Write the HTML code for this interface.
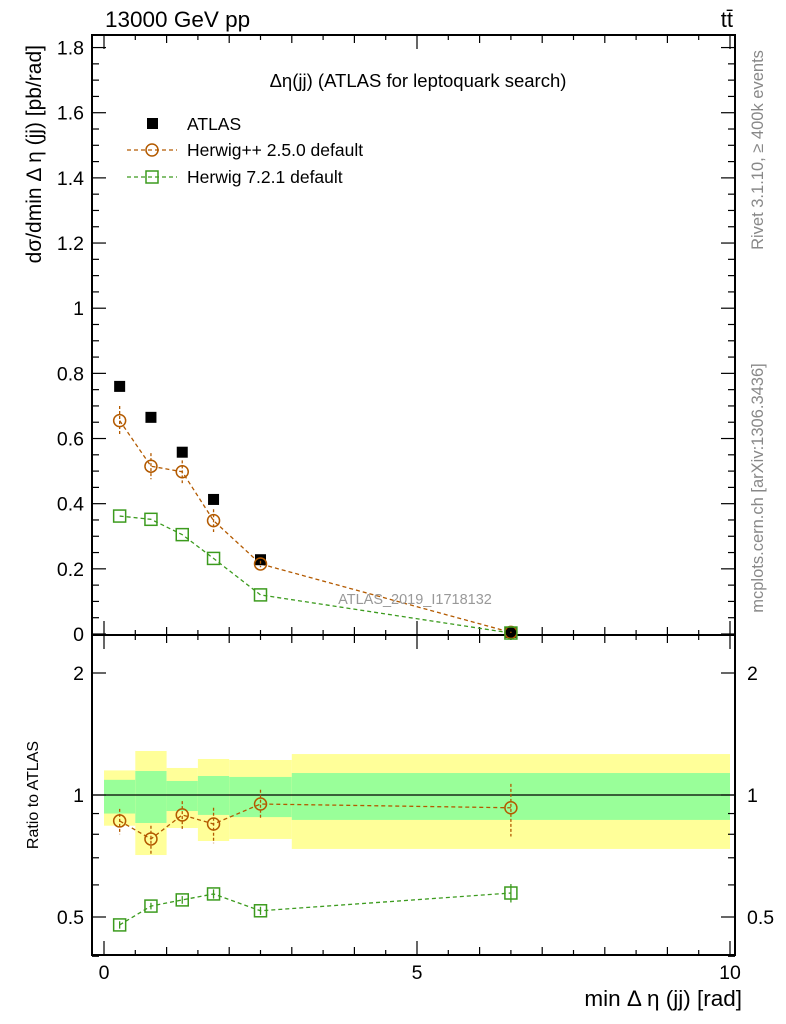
<!DOCTYPE html>
<html><head><meta charset="utf-8">
<style>
body{margin:0;background:#fff;}
svg{display:block;font-family:"Liberation Sans",sans-serif;}
</style></head>
<body>
<svg id="c" width="786" height="1024" viewBox="0 0 786 1024" xmlns="http://www.w3.org/2000/svg">
<g id="ratioBands"></g>
<g id="axes"></g>
<g id="series"></g>
<text x="105" y="27" font-size="22.5">13000 GeV pp</text>
<text x="733" y="27" font-size="22" text-anchor="end">tt̄</text>
<text x="418" y="87" font-size="18.5" text-anchor="middle">Δη(jj) (ATLAS for leptoquark search)</text>
<text x="415" y="604" font-size="14.5" fill="#999" text-anchor="middle">ATLAS_2019_I1718132</text>
<text transform="translate(41,45) rotate(-90)" font-size="21" text-anchor="end">dσ/dmin Δ η (jj) [pb/rad]</text>
<text transform="translate(38,795) rotate(-90)" font-size="16" text-anchor="middle">Ratio to ATLAS</text>
<text x="742" y="1006" font-size="22.5" text-anchor="end">min Δ η (jj) [rad]</text>
<text transform="translate(763,150) rotate(-90)" font-size="16.5" fill="#888" text-anchor="middle">Rivet 3.1.10, ≥ 400k events</text>
<text transform="translate(763,488) rotate(-90)" font-size="16.5" fill="#888" text-anchor="middle">mcplots.cern.ch [arXiv:1306.3436]</text>
<g>
<rect x="147" y="118" width="11" height="11" fill="#000"/>
<text x="187" y="130" font-size="17.5">ATLAS</text>
<line x1="127" y1="150" x2="177" y2="150" stroke="#b35a00" stroke-width="1.3" stroke-dasharray="4,3"/>
<circle cx="152" cy="150" r="6" fill="none" stroke="#b35a00" stroke-width="1.5"/>
<text x="187" y="156" font-size="17.5">Herwig++ 2.5.0 default</text>
<line x1="127" y1="177" x2="177" y2="177" stroke="#3c9b1e" stroke-width="1.3" stroke-dasharray="4,3"/>
<rect x="146" y="171" width="12" height="12" fill="none" stroke="#3c9b1e" stroke-width="1.5"/>
<text x="187" y="183" font-size="17.5">Herwig 7.2.1 default</text>
</g>
</svg>
<script>
const binEdges=[0,0.5,1.0,1.5,2.0,3.0,10];
const xCenters=[0.25,0.75,1.25,1.75,2.5,6.5];
const atlas=[0.76,0.665,0.558,0.413,0.228,0.005];
const hpp=[0.655,0.515,0.498,0.348,0.215,0.005];
const hppErr=[0.045,0.04,0.035,0.035,0.01,0.002];
const h7=[0.362,0.352,0.305,0.232,0.12,0.003];
const yellowHi=[1.15,1.284,1.166,1.227,1.22,1.262];
const yellowLo=[0.84,0.711,0.829,0.77,0.779,0.736];
const greenHi=[1.09,1.146,1.083,1.114,1.108,1.133];
const greenLo=[0.9,0.853,0.913,0.893,0.882,0.868];
const hppRatio=[0.863,0.779,0.893,0.848,0.95,0.93];
const hppRatioHi=[0.924,0.84,0.966,0.93,1.03,1.065];
const hppRatioLo=[0.8,0.71,0.825,0.76,0.87,0.79];
const h7Ratio=[0.478,0.532,0.551,0.57,0.518,0.573];
const h7RatioErr=[0.01,0.01,0.012,0.015,0.012,0.03];
const mainTicks=[0,0.2,0.4,0.6,0.8,1,1.2,1.4,1.6,1.8];
const mainTickLabels=["0","0.2","0.4","0.6","0.8","1","1.2","1.4","1.6","1.8"];
const ratioTicks=[0.5,1,2];
const ratioTickLabels=["0.5","1","2"];
const xTicks=[0,5,10];
const xTickLabels=["0","5","10"];

const NS="http://www.w3.org/2000/svg";
const L=92,R=735,T=35,MB=635,RB=955;
const X=v=>104+v*62.6;
const Y=v=>634-v*325.8;
const YR=v=>795-Math.log2(v)*122;
function mk(tag,at,parent){const e=document.createElementNS(NS,tag);for(const k in at)e.setAttribute(k,at[k]);parent.appendChild(e);return e;}
const bands=document.getElementById('ratioBands'),axes=document.getElementById('axes'),ser=document.getElementById('series');
for(let i=0;i<6;i++){
 const x0=X(binEdges[i]),x1=X(binEdges[i+1]);
 let y=mk('rect',{x:x0,y:YR(yellowHi[i]),width:x1-x0,height:YR(yellowLo[i])-YR(yellowHi[i]),fill:'#ffff99'},bands);
 
 
 let g=mk('rect',{x:x0,y:YR(greenHi[i]),width:x1-x0,height:YR(greenLo[i])-YR(greenHi[i]),fill:'#99ff99'},bands);
 
 
}
mk('line',{x1:L,y1:YR(1),x2:R,y2:YR(1),stroke:'#000','stroke-width':1.2},axes);
for(const [t,b] of [[T,MB],[MB,RB]]){
 const f=mk('rect',{x:L,y:t,width:R-L,height:b-t,fill:'none',stroke:'#000','stroke-width':2},axes);
 
 
}
for(let v=0;v<=1.85;v+=0.05){const major=Math.abs(v/0.2-Math.round(v/0.2))<1e-6;const l=major?14:7;
 mk('line',{x1:L,y1:Y(v),x2:L+l,y2:Y(v),stroke:'#000','stroke-width':1.2},axes);
 mk('line',{x1:R,y1:Y(v),x2:R-l,y2:Y(v),stroke:'#000','stroke-width':1.2},axes);}
mainTicks.forEach((v,i)=>{const t=mk('text',{x:L-8,y:Y(v)+7,'font-size':19.5,'text-anchor':'end'},axes);t.textContent=mainTickLabels[i];
 
 });
[0.4,0.5,0.6,0.7,0.8,0.9,1,2].forEach(v=>{const major=ratioTicks.includes(v);const l=major?14:7;
 mk('line',{x1:L,y1:YR(v),x2:L+l,y2:YR(v),stroke:'#000','stroke-width':1.2},axes);
 mk('line',{x1:R,y1:YR(v),x2:R-l,y2:YR(v),stroke:'#000','stroke-width':1.2},axes);});
ratioTicks.forEach((v,i)=>{for(const [x,a] of [[L-8,'end'],[R+12,'start']]){const t=mk('text',{x:x,y:YR(v)+7,'font-size':19.5,'text-anchor':a},axes);t.textContent=ratioTickLabels[i];
 
 }});
for(let v=0;v<=10;v+=0.5){const major=Math.abs(v-Math.round(v))<1e-6?(v%5==0?14:8):5;
 for(const [b,t] of [[MB,T],[RB,MB]]){mk('line',{x1:X(v),y1:b,x2:X(v),y2:b-major,stroke:'#000','stroke-width':1.2},axes);mk('line',{x1:X(v),y1:t,x2:X(v),y2:t+major,stroke:'#000','stroke-width':1.2},axes);}}
xTicks.forEach((v,i)=>{const t=mk('text',{x:X(v),y:979,'font-size':19.5,'text-anchor':'middle'},axes);t.textContent=xTickLabels[i];
 
 });
const OR='#b35a00',GR='#3c9b1e';
function line(pts,col,name){const p=mk('polyline',{points:pts.map(q=>q.join(',')).join(' '),fill:'none',stroke:col,'stroke-width':1.3,'stroke-dasharray':'4,3'},ser);
 
 }
line(xCenters.map((x,i)=>[X(x),Y(hpp[i])]),OR,'herwigpp-line');
line(xCenters.map((x,i)=>[X(x),Y(h7[i])]),GR,'herwig7-line');
line(xCenters.map((x,i)=>[X(x),YR(hppRatio[i])]),OR,'herwigpp-ratio-line');
line(xCenters.map((x,i)=>[X(x),YR(h7Ratio[i])]),GR,'herwig7-ratio-line');
xCenters.forEach((x,i)=>{
 const a=mk('rect',{x:X(x)-5.5,y:Y(atlas[i])-5.5,width:11,height:11,fill:'#000'},ser);
 
 
 mk('line',{x1:X(x),y1:Y(hpp[i]+hppErr[i]),x2:X(x),y2:Y(hpp[i]-hppErr[i]),stroke:OR,'stroke-width':1.3,'stroke-dasharray':'3,2'},ser);
 const c=mk('circle',{cx:X(x),cy:Y(hpp[i]),r:6,fill:'none',stroke:OR,'stroke-width':1.5},ser);
 
 
 const s=mk('rect',{x:X(x)-6,y:Y(h7[i])-6,width:12,height:12,fill:'none',stroke:GR,'stroke-width':1.5},ser);
 
 
 mk('line',{x1:X(x),y1:YR(hppRatioHi[i]),x2:X(x),y2:YR(hppRatioLo[i]),stroke:OR,'stroke-width':1.3,'stroke-dasharray':'3,2'},ser);
 const cr=mk('circle',{cx:X(x),cy:YR(hppRatio[i]),r:6,fill:'none',stroke:OR,'stroke-width':1.5},ser);
 
 
 mk('line',{x1:X(x),y1:YR(h7Ratio[i]+h7RatioErr[i]),x2:X(x),y2:YR(h7Ratio[i]-h7RatioErr[i]),stroke:GR,'stroke-width':1.3},ser);
 const sr=mk('rect',{x:X(x)-6,y:YR(h7Ratio[i])-6,width:12,height:12,fill:'none',stroke:GR,'stroke-width':1.5},ser);
 
 
});
</script>
</body></html>
